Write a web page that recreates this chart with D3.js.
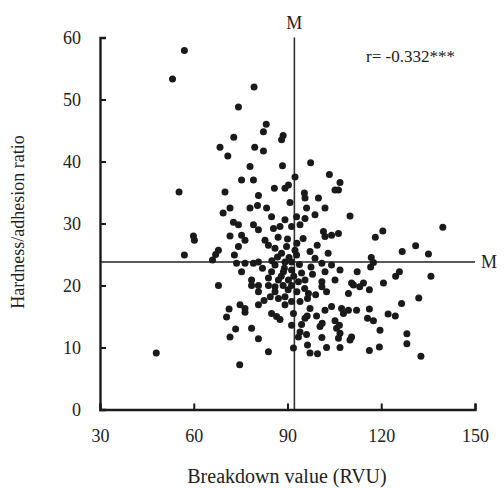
<!DOCTYPE html>
<html><head><meta charset="utf-8">
<script src="https://cdn.jsdelivr.net/npm/d3@7"></script>
<style>body{margin:0;background:#fff}svg{display:block}text{font-family:"Liberation Serif","DejaVu Serif",serif;fill:#222}</style>
</head><body>
<script>
const xTicks = [30, 60, 90, 120, 150];
const yTicks = [0, 10, 20, 30, 40, 50, 60];
const medianX = 92.2;
const medianY = 23.8;
const xLabel = "Breakdown value (RVU)";
const yLabel = "Hardness/adhesion ratio";
const rLabel = "r= -0.332***";
const breakdown = [57.0,53.2,68.4,70.9,79.3,74.3,83.2,82.3,72.8,88.6,88.1,79.5,82.3,78.0,88.4,97.4,55.3,70.0,69.4,71.6,59.9,60.2,71.6,57.0,67.9,67.0,66.0,67.9,48.0,71.3,70.5,71.6,
110.0,120.5,118.1,139.7,131.0,126.7,135.1,116.8,117.5,116.6,112.3,125.8,124.6,135.9,120.7,114.3,111.1,113.1,116.2,
132.0,126.5,112.1,109.5,116.2,122.2,124.5,115.6,117.5,119.6,128.2,128.2,110.5,110.0,116.2,119.4,132.7,
74.7,83.9,91.9,97.2,99.6,96.4,102.5,106.8,80.7,73.4,78.5,93.5,94.0,96.1,101.0,106.3,91.3,94.5,95.6,96.3,100.4,101.1,105.2,105.7,106.6,106.8,
74.8,76.4,76.4,80.7,84.9,86.5,87.6,89.2,91.9,91.3,94.0,97.2,99.3,102.0,104.1,107.3,107.9,96.4,96.7,101.0,102.5,109.5,80.7,86.0,87.1,89.2,78.5,80.7,83.9,88.6,91.3,
103.4,106.8,105.2,106.3,75.3,79.1,85.8,89.2,90.3,92.4,95.4,95.6,99.9,80.7,90.8,78.0,80.4,83.3,96.1,102.0,84.9,89.2,92.9,95.6,98.8,72.7,74.3,79.1,80.7,85.5,87.6,91.3,94.0,
75.3,76.4,82.8,89.7,95.0,101.5,104.1,106.3,102.0,74.3,83.9,86.0,88.1,92.4,97.2,73.0,92.9,103.0,98.8,73.7,76.4,79.1,80.7,86.0,89.2,91.3,101.0,104.1,
75.3,84.9,88.7,91.3,94.5,102.0,106.8,78.5,83.9,87.1,90.3,93.5,95.6,101.0,105.2,110.5,86.0,90.2,93.0,
90.5,89.0,92.0,88.0,86.8,93.8,90.0,87.0,93.0,85.0,82.0,95.5,98.0,99.0,84.5,82.5,97.5,99.5];
const ratio = [57.9,53.3,42.3,40.9,52.0,48.8,46.0,44.8,43.9,44.2,43.5,42.3,41.7,39.2,39.3,39.8,35.1,35.1,31.7,32.5,28.0,27.3,28.0,24.9,25.7,25.0,24.1,20.0,9.1,16.2,14.9,11.7,
31.2,28.8,27.8,29.4,26.4,25.5,25.1,24.5,23.7,23.0,22.2,22.2,21.5,21.5,20.4,20.4,20.1,19.8,19.3,
18.0,17.1,16.0,16.0,16.2,15.4,15.1,14.7,14.3,12.8,12.2,10.6,11.7,11.2,9.5,10.1,8.6,
7.2,9.3,9.9,9.1,9.0,10.4,10.0,10.0,11.4,13.0,13.1,11.7,12.5,12.1,11.6,11.5,13.6,13.7,14.7,15.1,13.4,13.9,14.3,13.1,13.6,12.3,
16.9,16.3,15.7,16.9,15.5,15.0,14.5,16.9,15.5,17.4,17.4,16.3,15.1,16.0,16.6,16.3,15.5,17.9,18.7,19.8,19.0,18.7,19.0,19.0,17.9,18.2,20.0,20.0,20.0,20.0,20.0,
37.9,36.6,35.4,35.4,37.0,37.0,35.7,35.7,36.2,37.5,34.9,34.1,34.1,34.5,33.4,32.5,32.9,32.5,32.5,32.5,31.1,30.6,31.1,30.8,31.4,30.2,29.8,29.8,29.0,29.2,29.5,29.5,29.8,
28.1,27.3,27.3,26.3,27.6,28.7,28.1,28.4,27.9,26.3,26.5,26.0,25.2,25.7,25.5,24.9,24.9,25.2,24.4,23.6,23.6,23.6,23.8,23.3,23.8,23.8,23.6,23.3,
22.2,22.2,22.2,22.5,22.0,22.2,22.5,20.9,21.2,20.9,20.9,20.6,20.9,20.6,20.9,20.4,19.8,19.3,19.0,
24.5,22.8,21.5,21.5,24.6,23.4,27.5,27.8,26.8,24.0,22.8,19.5,21.8,18.5,18.2,17.6,23.0,26.5];

const W = 504, H = 488;
const svg = d3.select("body").append("svg").attr("width", W).attr("height", H);
const x = d3.scaleLinear().domain([30, 150]).range([100, 475]);
const y = d3.scaleLinear().domain([0, 60]).range([409.5, 37.5]);

// median lines
svg.append("line").attr("x1", x(medianX)).attr("x2", x(medianX)).attr("y1", y(60)).attr("y2", y(0))
  .attr("stroke", "#333").attr("stroke-width", 1.6);
svg.append("line").attr("x1", x(30)).attr("x2", x(150)).attr("y1", y(medianY)).attr("y2", y(medianY))
  .attr("stroke", "#222").attr("stroke-width", 1.6);

// points
svg.append("g").selectAll("circle").data(breakdown.map((d, i) => [d, ratio[i]])).join("circle")
  .attr("cx", d => x(d[0])).attr("cy", d => y(d[1])).attr("r", 3.5).attr("fill", "#1a1a1a");

// axes
const ax = svg.append("g").attr("transform", `translate(0,${y(0)})`)
  .call(d3.axisBottom(x).tickValues(xTicks).tickSize(-6).tickPadding(14));
const ay = svg.append("g").attr("transform", `translate(${x(30)},0)`)
  .call(d3.axisLeft(y).tickValues(yTicks).tickSize(-6).tickPadding(19));
[ax, ay].forEach(a => {
  a.select(".domain").attr("stroke", "#1a1a1a").attr("stroke-width", 2.4);
  a.selectAll(".tick line").attr("stroke", "#1a1a1a").attr("stroke-width", 2);
  a.selectAll(".tick text").attr("font-family", '"Liberation Serif", serif').attr("font-size", 18).attr("fill", "#222");
});
ax.selectAll(".tick text").attr("dy", "1.0em");

svg.append("text").attr("x", 287).attr("y", 483).attr("text-anchor", "middle").attr("font-size", 20).text(xLabel);
svg.append("text").attr("transform", "translate(24,222) rotate(-90)").attr("text-anchor", "middle").attr("font-size", 18).text(yLabel);
svg.append("text").attr("x", 366).attr("y", 62).attr("font-size", 17).text(rLabel);
svg.append("text").attr("x", x(medianX)).attr("y", 29).attr("text-anchor", "middle").attr("font-size", 18).text("M");
svg.append("text").attr("x", 481).attr("y", 268).attr("font-size", 18).text("M");
</script>
</body></html>
